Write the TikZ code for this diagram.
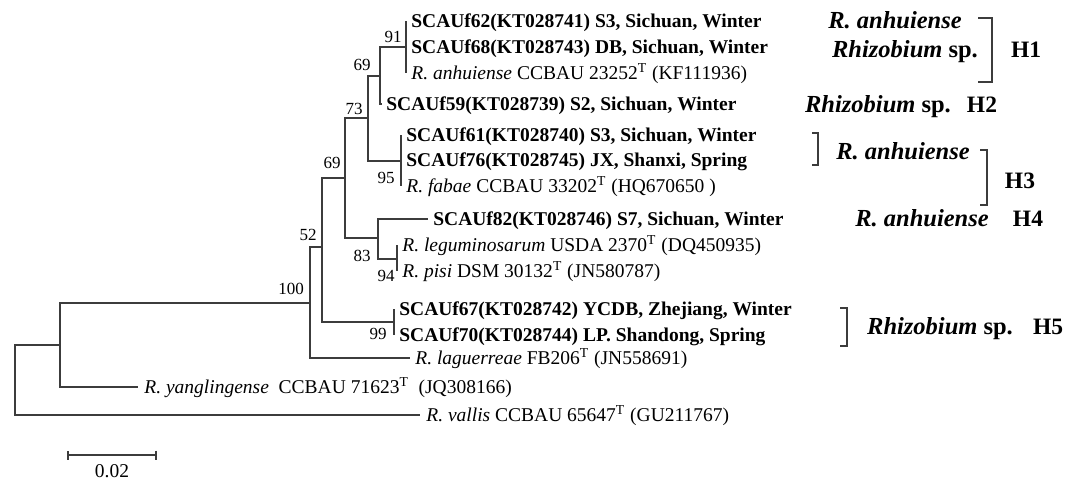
\documentclass[tikz,border=0pt]{standalone}
\usepackage{fontspec}
\setmainfont{Liberation Serif}
\usepackage{tikz}
\usetikzlibrary{arrows.meta,positioning,calc}
\definecolor{treeline}{HTML}{3C3C3C}

\begin{document}
\begin{tikzpicture}[x=0.5pt, y=-0.5pt,
  branch/.style={draw=treeline, line width=0.9pt},
  leaf/.style={inner sep=0pt, text height=0.66em, text depth=0pt, font=\fontsize{9.75}{11}\selectfont},
  boot/.style={inner sep=0pt, text height=0.66em, text depth=0pt, font=\fontsize{8.5}{10}\selectfont},
  taxon/.style={inner sep=0pt, text height=0.66em, text depth=0pt, font=\fontsize{12.25}{14}\selectfont\bfseries},
  hap/.style={inner sep=0pt, text height=0.66em, text depth=0pt, font=\fontsize{11.75}{14}\selectfont\bfseries},
  brk/.style={draw=treeline, line width=0.7pt}
]
  \useasboundingbox (0,0) rectangle (1081,482);

  % internal nodes
  \coordinate (root) at (15,380);
  \coordinate (nA) at (60,345);
  \coordinate (n100) at (310,303);
  \coordinate (n52) at (322,247);
  \coordinate (n69b) at (345,178);
  \coordinate (n73) at (368,118);
  \coordinate (n69a) at (380,76);
  \coordinate (n91) at (406,47);
  \coordinate (n95) at (401,161);
  \coordinate (n83) at (378,238);
  \coordinate (n94) at (397,259);
  \coordinate (n99) at (394,322);

  % tips
  \coordinate (t62) at (406,21);
  \coordinate (t68) at (406,47);
  \coordinate (tanh) at (406,73);
  \coordinate (t59) at (382,104);
  \coordinate (t61) at (401,135);
  \coordinate (t76) at (401,160);
  \coordinate (tfab) at (401,186);
  \coordinate (t82) at (428,219);
  \coordinate (tleg) at (397,245);
  \coordinate (tpis) at (397,271);
  \coordinate (t67) at (394,309);
  \coordinate (t70) at (394,335);
  \coordinate (tlag) at (410,358);
  \coordinate (tyan) at (138,387);
  \coordinate (tval) at (420,415);

  % leaves
  \node[leaf, right=2.5pt of t62] (L62) {\bfseries SCAUf62(KT028741) S3, Sichuan, Winter};
  \node[leaf, right=2.5pt of t68] (L68) {\bfseries SCAUf68(KT028743) DB, Sichuan, Winter};
  \node[leaf, right=2.5pt of tanh] (Lanh) {\textit{R. anhuiense} CCBAU 23252\textsuperscript{T} (KF111936)};
  \node[leaf, right=2pt of t59] (L59) {\bfseries SCAUf59(KT028739) S2, Sichuan, Winter};
  \node[leaf, right=2.5pt of t61] (L61) {\bfseries SCAUf61(KT028740) S3, Sichuan, Winter};
  \node[leaf, right=2.5pt of t76] (L76) {\bfseries SCAUf76(KT028745) JX, Shanxi, Spring};
  \node[leaf, right=2.5pt of tfab] (Lfab) {\textit{R. fabae} CCBAU 33202\textsuperscript{T} (HQ670650 )};
  \node[leaf, right=2.5pt of t82] (L82) {\bfseries SCAUf82(KT028746) S7, Sichuan, Winter};
  \node[leaf, right=2.5pt of tleg] (Lleg) {\textit{R. leguminosarum} USDA 2370\textsuperscript{T} (DQ450935)};
  \node[leaf, right=2.5pt of tpis] (Lpis) {\textit{R. pisi} DSM 30132\textsuperscript{T} (JN580787)};
  \node[leaf, right=2.5pt of t67] (L67) {\bfseries SCAUf67(KT028742) YCDB, Zhejiang, Winter};
  \node[leaf, right=2.5pt of t70] (L70) {\bfseries SCAUf70(KT028744) LP. Shandong, Spring};
  \node[leaf, right=2.5pt of tlag] (Llag) {\textit{R. laguerreae} FB206\textsuperscript{T} (JN558691)};
  \node[leaf, right=3pt of tyan] (Lyan) {\textit{R. yanglingense}\ \ CCBAU 71623\textsuperscript{T}\ \ (JQ308166)};
  \node[leaf, right=3pt of tval] (Lval) {\textit{R. vallis} CCBAU 65647\textsuperscript{T} (GU211767)};

  % branches
  \draw[branch] (root) |- (nA);
  \draw[branch] (root) |- (tval);
  \draw[branch] (nA) |- (n100);
  \draw[branch] (nA) |- (tyan);
  \draw[branch] (n100) |- (n52);
  \draw[branch] (n100) |- (tlag);
  \draw[branch] (n52) |- (n69b);
  \draw[branch] (n52) |- (n99);
  \draw[branch] (n69b) |- (n73);
  \draw[branch] (n69b) |- (n83);
  \draw[branch] (n73) |- (n69a);
  \draw[branch] (n73) |- (n95);
  \draw[branch] (n69a) |- (n91);
  \draw[branch] (n69a) |- (t59);
  \draw[branch] (n83) |- (t82);
  \draw[branch] (n83) |- (n94);
  \draw[branch] (t62) -- (tanh);
  \draw[branch] (t61) -- (tfab);
  \draw[branch] (tleg) -- (tpis);
  \draw[branch] (t67) -- (t70);

  % bootstrap values
  \node[boot] (b91) at (393,36) {91};
  \node[boot] (b69a) at (362,64) {69};
  \node[boot] (b73) at (354,108) {73};
  \node[boot] (b69b) at (332,162) {69};
  \node[boot] (b95) at (386,177) {95};
  \node[boot] (b52) at (308,234) {52};
  \node[boot] (b100) at (291,288) {100};
  \node[boot] (b83) at (362,255) {83};
  \node[boot] (b94) at (386,275) {94};
  \node[boot] (b99) at (378,333) {99};

  % groups
  \node[taxon] (s1a) at (895,22) {\textit{R. anhuiense}};
  \node[taxon] (s1b) at (905,51) {\textit{Rhizobium} sp.};
  \node[hap] (h1) at (1026,51) {H1};
  \draw[brk] (978,18) -- (992,18) -- (992,82) -- (978,82);
  \node[taxon] (s2) at (878,106) {\textit{Rhizobium} sp.};
  \node[hap] (h2) at (982,106) {H2};
  \draw[brk] (812,133) -- (818,133) -- (818,165) -- (812,165);
  \node[taxon] (s3) at (903,153) {\textit{R. anhuiense}};
  \draw[brk] (980,150) -- (987,150) -- (987,205) -- (980,205);
  \node[hap] (h3) at (1020,182) {H3};
  \node[taxon] (s4) at (922,220) {\textit{R. anhuiense}};
  \node[hap] (h4) at (1028,220) {H4};
  \draw[brk] (840,308) -- (847,308) -- (847,346) -- (840,346);
  \node[taxon] (s5) at (940,328) {\textit{Rhizobium} sp.};
  \node[hap] (h5) at (1048,328) {H5};

  % scale bar
  \coordinate (sb1) at (67,455);
  \coordinate (sb2) at (157,455);
  \draw[branch, {Bar[width=4.5pt]}-{Bar[width=4.5pt]}] (sb1) -- (sb2);
  \node[leaf, below=4.5pt of $(sb1)!0.5!(sb2)$] (sbl) {0.02};
\end{tikzpicture}
\end{document}
